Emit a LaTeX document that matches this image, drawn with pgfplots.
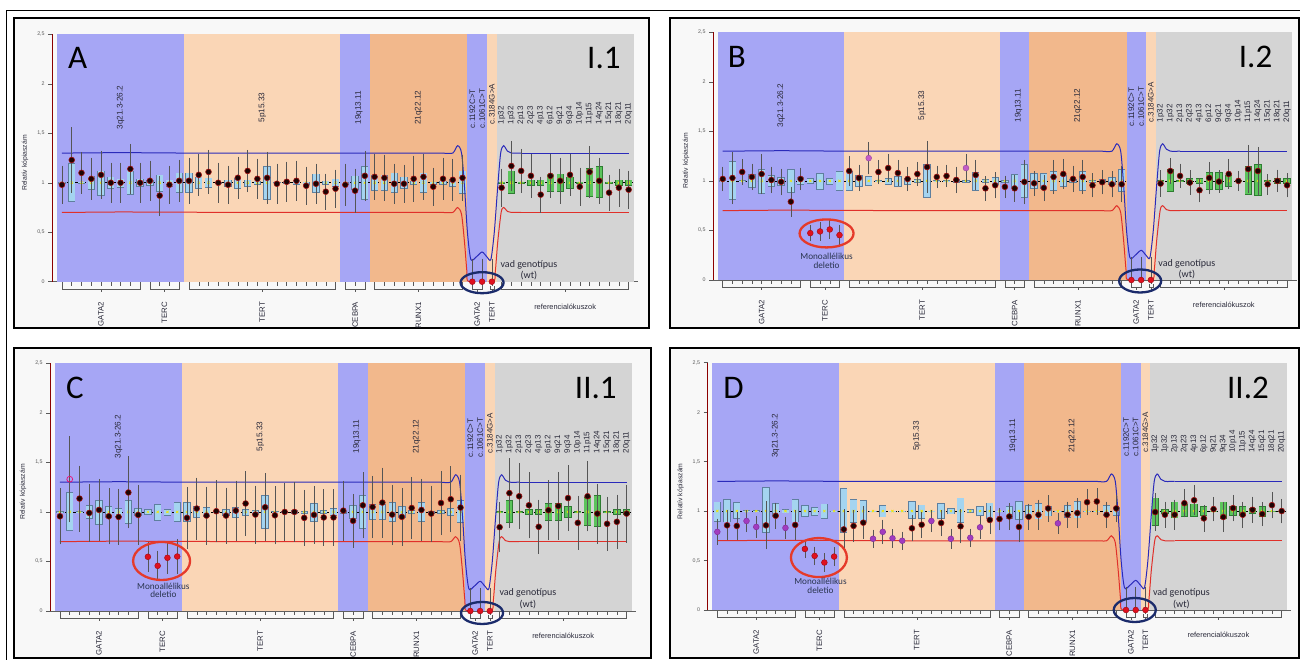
\documentclass[border=0pt]{standalone}
\usepackage{pgfplots}
\pgfplotsset{compat=1.18}
\usepackage{pgfplotstable}
\usepackage{fontspec}
\setmainfont{Liberation Sans}
\newfontfamily\calfont{Carlito}

\definecolor{regblue}{HTML}{A6A6F5}
\definecolor{regpeach}{HTML}{FAD6B6}
\definecolor{regorange}{HTML}{F2B88C}
\definecolor{reggray}{HTML}{D4D4D4}
\definecolor{thrblue}{HTML}{2A2ABA}
\definecolor{thrred}{HTML}{E0302A}
\definecolor{dotk}{HTML}{1C0404}
\definecolor{dotedge}{HTML}{A01212}
\definecolor{dotp}{HTML}{A23CC0}
\definecolor{dotm}{HTML}{C45CC8}
\definecolor{dotr}{HTML}{E0101E}
\definecolor{navyc}{HTML}{1B2B6B}
\definecolor{ellred}{HTML}{E53A2A}
\definecolor{boxedge}{HTML}{5E7F9E}
\definecolor{boxfill}{HTML}{A4D4F0}
\definecolor{gboxedge}{HTML}{2E7D32}
\definecolor{gboxfill}{HTML}{5CC45C}
\definecolor{txt}{HTML}{2A2A3A}
\definecolor{errc}{HTML}{555555}
\definecolor{yellowx}{HTML}{F2E600}
\definecolor{monoc}{HTML}{2A3550}
\definecolor{panelbg}{HTML}{F8F8F8}

% ---------- boxes (reference distribution) ----------
\pgfplotstableread{
lo hi med
0.99 1.01 1
0.81 1.20 1
0.99 1.01 1
0.93 1.07 1
0.87 1.12 1
0.94 1.06 1
0.95 1.04 1
0.88 1.12 1
0.96 1.04 1
0.97 1.03 1
0.91 1.08 1
0.96 1.03 1
0.90 1.10 1
0.90 1.10 1
0.94 1.06 1
0.95 1.05 1
0.99 1.01 1
0.96 1.03 1
0.94 1.05 1
0.96 1.03 1
0.98 1.02 1
0.83 1.17 1
0.995 1.005 1
0.99 1.01 1
0.98 1.02 1
0.98 1.01 1
0.90 1.09 1
0.98 1.02 1
0.96 1.04 1
0.98 1.01 1
0.93 1.07 1
0.83 1.17 1
0.92 1.08 1
0.92 1.08 1
0.90 1.10 1
0.94 1.06 1
0.98 1.02 1
0.90 1.10 1
0.98 1.01 1
0.98 1.02 1
0.96 1.04 1
0.89 1.12 1
1 1 1
1 1 1
1 1 1
0.99 1.01 1
0.89 1.12 1
0.99 1.01 1
0.97 1.03 1
0.97 1.03 1
0.91 1.09 1
0.91 1.09 1
0.94 1.06 1
0.99 1.01 1
0.86 1.15 1
0.85 1.17 1
0.99 1.01 1
0.97 1.03 1
0.97 1.03 1
}\boxABC

\pgfplotstableread{
lo hi med
0.89 1.094 1
0.886 1.12 1
0.92 1.087 1
0.99 1.01 1
0.99 1.01 1
0.78 1.24 1
0.936 1.077 1
0.977 1.02 1
0.886 1.12 1
0.94 1.057 1
0.95 1.04 1
0.92 1.074 1
0.995 1.005 1
0.78 1.23 1
0.88 1.12 1
0.89 1.107 1
0.995 1.005 1
0.936 1.06 1
0.995 1.005 1
0.995 1.005 1
0.92 1.10 1
0.92 1.064 1
0.995 1.005 1
0.92 1.077 1
0.966 1.027 1
0.88 1.134 1
0.983 1.017 1
0.95 1.047 1
0.92 1.084 1
0.995 1.005 1
0.92 1.05 1
0.91 1.10 1
0.93 1.06 1
0.916 1.08 1
0.946 1.05 1
0.995 1.005 1
0.93 1.06 1
0.926 1.097 1
0.995 1.005 1
0.995 1.005 1
0.95 1.057 1
0.953 1.037 1
1 1 1
1 1 1
1 1 1
0.85 1.134 1
0.97 1.02 1
0.926 1.094 1
0.94 1.074 1
0.943 1.074 1
0.95 1.05 1
0.995 1.005 1
0.92 1.094 1
0.95 1.047 1
0.95 1.05 1
0.97 1.03 1
0.94 1.05 1
0.995 1.005 1
0.995 1.005 1
}\boxD

% ---------- sample values ----------
\pgfplotstableread{
v ep em c
0.98 0.16 0.16 k
1.23 0.30 0.30 k
1.10 0.18 0.18 k
1.04 0.18 0.18 k
1.08 0.21 0.21 k
1.00 0.17 0.17 k
1.00 0.17 0.17 k
1.14 0.22 0.22 k
1.00 0.17 0.17 k
1.02 0.17 0.17 k
0.87 0.17 0.17 k
0.98 0.16 0.16 k
1.02 0.18 0.18 k
1.02 0.20 0.20 k
1.08 0.18 0.18 k
1.11 0.19 0.19 k
1.00 0.17 0.17 k
0.98 0.16 0.16 k
1.05 0.18 0.18 k
1.12 0.18 0.18 k
1.04 0.17 0.17 k
1.05 0.23 0.23 k
0.99 0.17 0.17 k
1.01 0.17 0.17 k
1.02 0.17 0.17 k
0.97 0.16 0.16 k
0.99 0.17 0.17 k
0.91 0.15 0.15 k
0.94 0.16 0.16 k
0.98 0.18 0.18 k
0.92 0.19 0.19 k
1.07 0.22 0.22 k
1.06 0.20 0.20 k
1.05 0.20 0.20 k
0.99 0.17 0.17 k
0.99 0.16 0.16 k
1.04 0.20 0.20 k
1.06 0.20 0.20 k
0.96 0.16 0.16 k
1.04 0.18 0.18 k
1.03 0.18 0.18 k
1.05 0.20 0.20 k
0 0.2 0 r
0 0.2 0 r
0 0.2 0 r
0.95 0.16 0.16 k
1.17 0.22 0.22 k
1.12 0.19 0.19 k
1.07 0.19 0.19 k
0.88 0.15 0.15 k
1.07 0.19 0.19 k
1.02 0.20 0.20 k
1.08 0.18 0.18 k
0.96 0.16 0.16 k
1.11 0.23 0.23 k
1.02 0.20 0.20 k
0.90 0.15 0.15 k
0.95 0.16 0.16 k
0.93 0.16 0.16 k
}\dotA

\pgfplotstableread{
v ep em c
1.02 0.09 0.09 k
1.03 0.23 0.23 k
1.09 0.10 0.10 k
1.04 0.10 0.10 k
1.07 0.17 0.17 k
1.01 0.10 0.10 k
0.99 0.10 0.10 k
0.79 0.12 0.12 k
1.02 0.08 0.08 k
0.473 0.05 0.05 r
0.49 0.06 0.06 r
0.51 0.06 0.06 r
0.453 0.07 0.07 r
1.10 0.12 0.12 k
1.03 0.10 0.10 k
1.23 0.13 0.13 m
1.09 0.09 0.09 k
1.13 0.11 0.11 k
1.08 0.10 0.10 k
1.02 0.09 0.09 k
1.07 0.09 0.09 k
1.14 0.23 0.23 k
1.04 0.08 0.08 k
1.05 0.08 0.08 k
1.01 0.10 0.10 k
1.13 0.11 0.11 m
1.06 0.12 0.12 k
0.925 0.09 0.09 k
0.956 0.10 0.10 k
0.94 0.08 0.08 k
0.925 0.10 0.10 k
0.99 0.19 0.19 k
0.976 0.09 0.09 k
0.93 0.10 0.10 k
1.04 0.14 0.14 k
1.07 0.12 0.12 k
1.02 0.10 0.10 k
1.04 0.14 0.14 k
0.956 0.09 0.09 k
0.987 0.09 0.09 k
0.966 0.10 0.10 k
0.966 0.15 0.15 k
0 0.2 0 r
0 0.2 0 r
0 0.2 0 r
0.973 0.10 0.10 k
1.10 0.10 0.10 k
1.05 0.09 0.09 k
0.983 0.09 0.09 k
0.906 0.09 0.09 k
1.03 0.13 0.13 k
0.993 0.08 0.08 k
1.07 0.12 0.12 k
1.00 0.07 0.07 k
1.12 0.21 0.21 k
1.10 0.21 0.21 k
0.966 0.07 0.07 k
1.00 0.08 0.08 k
0.956 0.09 0.09 k
}\dotB

\pgfplotstableread{
v ep em c
0.956 0.25 0.25 k
1.33 0.40 0.40 o
1.135 0.30 0.30 k
0.99 0.26 0.26 k
1.02 0.28 0.28 k
0.956 0.25 0.25 k
0.95 0.25 0.25 k
1.196 0.33 0.33 k
0.97 0.27 0.27 k
0.547 0.12 0.12 r
0.456 0.12 0.12 r
0.537 0.13 0.13 r
0.55 0.14 0.14 r
0.94 0.28 0.28 k
1.034 0.28 0.28 k
0.963 0.26 0.26 k
1.007 0.28 0.28 k
0.963 0.25 0.25 k
1.013 0.27 0.27 k
1.085 0.29 0.29 k
0.973 0.26 0.26 k
1.047 0.31 0.31 k
0.966 0.26 0.26 k
1.00 0.26 0.26 k
1.00 0.27 0.27 k
0.94 0.25 0.25 k
0.97 0.26 0.26 k
0.944 0.25 0.25 k
0.944 0.25 0.25 k
1.013 0.27 0.27 k
0.91 0.24 0.24 k
1.067 0.30 0.30 k
1.05 0.28 0.28 k
1.094 0.32 0.32 k
0.973 0.27 0.27 k
0.95 0.26 0.26 k
1.04 0.28 0.28 k
1.02 0.28 0.28 k
0.983 0.25 0.25 k
1.09 0.29 0.29 k
1.128 0.30 0.30 k
1.044 0.30 0.30 k
0 0.2 0 r
0 0.2 0 r
0 0.2 0 r
0.846 0.22 0.22 k
1.19 0.32 0.32 k
1.158 0.30 0.30 k
1.067 0.30 0.30 k
0.85 0.24 0.24 k
1.017 0.27 0.27 k
1.06 0.31 0.31 k
1.14 0.30 0.30 k
0.89 0.24 0.24 k
1.158 0.32 0.32 k
0.983 0.27 0.27 k
0.88 0.24 0.24 k
0.90 0.24 0.24 k
0.983 0.26 0.26 k
}\dotC

\pgfplotstableread{
v ep em c
0.79 0.10 0.10 p
0.856 0.12 0.12 k
0.85 0.11 0.11 k
0.90 0.08 0.08 p
0.84 0.08 0.08 p
0.856 0.21 0.21 k
0.953 0.10 0.10 k
0.83 0.08 0.08 p
0.86 0.12 0.12 k
0.617 0.06 0.06 r
0.547 0.06 0.06 r
0.48 0.06 0.06 r
0.54 0.06 0.06 r
0.815 0.17 0.17 k
0.85 0.13 0.13 k
0.883 0.13 0.13 k
0.72 0.06 0.06 p
0.79 0.09 0.09 p
0.725 0.06 0.06 p
0.70 0.06 0.06 p
0.826 0.10 0.10 k
0.862 0.10 0.10 k
0.90 0.08 0.08 p
0.88 0.10 0.10 k
0.72 0.07 0.07 p
0.846 0.14 0.14 k
0.73 0.06 0.06 p
0.836 0.08 0.08 p
0.91 0.11 0.11 k
0.92 0.08 0.08 k
0.946 0.10 0.10 k
0.84 0.12 0.12 k
0.943 0.10 0.10 k
0.963 0.12 0.12 k
1.027 0.10 0.10 k
0.876 0.07 0.07 p
0.963 0.10 0.10 k
0.98 0.12 0.12 k
1.09 0.10 0.10 k
1.097 0.10 0.10 k
0.963 0.10 0.10 k
1.027 0.10 0.10 k
0 0.2 0 r
0 0.2 0 r
0 0.2 0 r
0.99 0.16 0.16 k
0.963 0.10 0.10 k
0.963 0.12 0.12 k
1.08 0.11 0.11 k
1.11 0.12 0.12 k
0.926 0.10 0.10 k
1.02 0.09 0.09 k
0.94 0.12 0.12 k
1.03 0.10 0.10 k
0.963 0.10 0.10 k
1.013 0.10 0.10 k
0.97 0.09 0.09 k
1.06 0.10 0.10 k
1.00 0.09 0.09 k
}\dotD

\pgfplotsset{
 panel/.style={
  scale only axis, anchor=south west,
  xmin=0, xmax=60, ymin=0, ymax=2.5,
  axis x line*=bottom, axis y line*=left,
  axis line style={-},
  x axis line style={draw=gray!75!black, line width=0.5pt},
  y axis line style={draw=red!55!black, line width=0.5pt},
  xtick={1,...,59}, xticklabels={},
  ytick={0,0.5,1,1.5,2,2.5},
  yticklabel style={font=\fontsize{5.3}{6}\selectfont, text=gray!70!black},
  /pgf/number format/use comma,
  /pgf/number format/assume math mode=true,
  tick align=outside, major tick length=4pt,
  tick style={draw=gray!70!black, line width=0.5pt},
  clip mode=individual,
 },
}
\tikzset{
 brk/.style={draw=gray!70!black, line width=0.5pt},
 gl/.style={rotate=90, anchor=east, font=\fontsize{7.8}{8}\selectfont, text=txt, inner sep=0pt},
 rl/.style={rotate=90, anchor=center, font=\fontsize{8.2}{9}\selectfont, text=txt, inner sep=0pt},
 ml/.style={rotate=90, anchor=west, font=\fontsize{8}{9}\selectfont, text=txt, inner sep=0pt},
 big/.style={font=\calfont\fontsize{33}{36}\selectfont, inner sep=0pt},
 ann/.style={font=\calfont\fontsize{10}{11}\selectfont, text=txt, inner sep=0pt},
 mono/.style={font=\calfont\fontsize{9.2}{10}\selectfont, text=monoc, inner sep=0pt},
}

\newcommand\regions{%
 \addplot[fill=regblue,draw=none] coordinates {(0.5,2.5)(13.5,2.5)} \closedcycle;
 \addplot[fill=regpeach,draw=none] coordinates {(13.5,2.5)(29.5,2.5)} \closedcycle;
 \addplot[fill=regblue,draw=none] coordinates {(29.5,2.5)(32.5,2.5)} \closedcycle;
 \addplot[fill=regorange,draw=none] coordinates {(32.5,2.5)(42.5,2.5)} \closedcycle;
 \addplot[fill=regblue,draw=none] coordinates {(42.5,2.5)(44.5,2.5)} \closedcycle;
 \addplot[fill=regpeach,draw=none] coordinates {(44.5,2.5)(45.5,2.5)} \closedcycle;
 \addplot[fill=reggray,draw=none] coordinates {(45.5,2.5)(59.5,2.5)} \closedcycle;
}

% boxes drawn as thick error bars: border pass, then fill pass
\newcommand\drawboxes[1]{%
 \addplot[draw=none, mark=none, skip coords between index={42}{59},
   error bars/.cd, y dir=plus, y explicit, error mark=none,
   error bar style={line width=7.3pt, draw=boxedge}]
   table[x expr=\coordindex+1, y=lo, y error plus expr=\thisrow{hi}-\thisrow{lo}] {#1};
 \addplot[draw=none, mark=none, skip coords between index={42}{59},
   error bars/.cd, y dir=plus, y explicit, error mark=none,
   error bar style={line width=6.2pt, draw=boxfill}]
   table[x expr=\coordindex+1, y expr=\thisrow{lo}+0.006, y error plus expr=\thisrow{hi}-\thisrow{lo}-0.012] {#1};
 \addplot[draw=none, mark=none, skip coords between index={0}{45},
   error bars/.cd, y dir=plus, y explicit, error mark=none,
   error bar style={line width=7.3pt, draw=gboxedge}]
   table[x expr=\coordindex+1, y=lo, y error plus expr=\thisrow{hi}-\thisrow{lo}] {#1};
 \addplot[draw=none, mark=none, skip coords between index={0}{45},
   error bars/.cd, y dir=plus, y explicit, error mark=none,
   error bar style={line width=6.2pt, draw=gboxfill}]
   table[x expr=\coordindex+1, y expr=\thisrow{lo}+0.006, y error plus expr=\thisrow{hi}-\thisrow{lo}-0.012] {#1};
}

\newcommand\thresholds{%
 \addplot[thrblue, line width=1pt] coordinates {(1,1.30)(7,1.305)(14,1.30)(40,1.30)};
 \addplot[thrblue, line width=1pt, smooth, tension=0.45] coordinates {(40,1.30)(41.0,1.30)(41.5,1.375)(41.9,1.30)(42.2,0.96)(42.5,0.5)(42.85,0.225)(43.4,0.25)(44.0,0.30)(44.5,0.25)(44.9,0.225)(45.25,0.5)(45.6,0.96)(45.9,1.30)(46.2,1.375)(46.6,1.32)(47.0,1.30)(48,1.30)};
 \addplot[thrblue, line width=1pt] coordinates {(48,1.30)(59,1.30)};
 \addplot[thrred, line width=1pt] coordinates {(1,0.70)(7,0.705)(20,0.70)(40,0.70)};
 \addplot[thrred, line width=1pt, smooth, tension=0.45] coordinates {(40,0.70)(41.0,0.70)(41.5,0.75)(41.9,0.68)(42.2,0.40)(42.45,0.10)(42.65,0.0)(45.1,0.0)(45.35,0.10)(45.6,0.40)(45.95,0.70)(46.2,0.75)(46.6,0.71)(47.0,0.70)(48,0.70)};
 \addplot[thrred, line width=1pt] coordinates {(48,0.70)(59,0.70)};
}

\newcommand\brk[3]{%
 \draw[brk] ([yshift=-4pt]axis cs:#1,0) |- ([yshift=-7.6pt]axis cs:#3,0) -| ([yshift=-4pt]axis cs:#2,0);
 \draw[brk] ([yshift=-7.6pt]axis cs:#3,0) -- ([yshift=-10.4pt]axis cs:#3,0);
}
\newcommand\brackets{%
 \brk{1}{9}{5} \node[gl] at ([yshift=-20pt]axis cs:5,0) {GATA2};
 \brk{10}{13}{11.5} \node[gl] at ([yshift=-20pt]axis cs:11.5,0) {TERC};
 \brk{14}{29}{21.5} \node[gl] at ([yshift=-20pt]axis cs:21.5,0) {TERT};
 \brk{30}{32}{31} \node[gl] at ([yshift=-20pt]axis cs:31,0) {CEBPA};
 \brk{33}{42}{37.5} \node[gl] at ([yshift=-20pt]axis cs:37.5,0) {RUNX1};
 \brk{43}{44}{43.5} \node[gl] at ([yshift=-20pt]axis cs:43.5,0) {GATA2};
 \brk{44.8}{45.2}{45} \node[gl] at ([yshift=-20pt]axis cs:45,0) {TERT};
 \brk{46}{59}{52.5} \node[font=\fontsize{7.4}{8}\selectfont, text=txt, inner sep=0pt] at ([yshift=-25pt]axis cs:52.5,0) {referencialókuszok};
}
\newcommand\reglabels{%
 \node[rl] at (axis cs:7,1.76) {3q21.3-26.2};
 \node[rl] at (axis cs:21.5,1.76) {5p15.33};
 \node[rl] at (axis cs:31.4,1.76) {19q13.11};
 \node[rl] at (axis cs:37.5,1.76) {21q22.12};
 \node[ml] at (axis cs:43,1.55) {c.1192C>T};
 \node[ml] at (axis cs:44,1.55) {c.1061C>T};
 \node[ml] at (axis cs:45,1.59) {c.3184G>A};
 \node[ml] at (axis cs:46,1.59) {1p32};
 \node[ml] at (axis cs:47,1.59) {1p32};
 \node[ml] at (axis cs:48,1.59) {2p13};
 \node[ml] at (axis cs:49,1.59) {2q23};
 \node[ml] at (axis cs:50,1.59) {4p13};
 \node[ml] at (axis cs:51,1.59) {6p12};
 \node[ml] at (axis cs:52,1.59) {9q21};
 \node[ml] at (axis cs:53,1.59) {9q34};
 \node[ml] at (axis cs:54,1.59) {10p14};
 \node[ml] at (axis cs:55,1.59) {11p15};
 \node[ml] at (axis cs:56,1.59) {14q24};
 \node[ml] at (axis cs:57,1.59) {15q21};
 \node[ml] at (axis cs:58,1.59) {18q21};
 \node[ml] at (axis cs:59,1.59) {20q11};
 \node[rotate=90, font=\fontsize{6.8}{7}\selectfont, text=txt] at ([xshift=-27pt]axis cs:0,1.2) {Relatív kópiaszám};
}

\newcommand\drawdots[1]{%
 \addplot[scatter, only marks, scatter src=explicit symbolic, mark size=2.9pt,
   scatter/classes={k={mark=*,fill=dotk,draw=dotedge,line width=0.6pt},
                    p={mark=*,fill=dotp,draw=dotp!80!black,line width=0.5pt},
                    m={mark=*,fill=dotm,draw=dotm!80!black,line width=0.5pt},
                    r={mark=*,fill=dotr,draw=dotr!75!black,line width=0.5pt},
                    o={mark=o,draw=magenta!70!red,line width=0.7pt}},
   error bars/.cd, y dir=both, y explicit, error mark=-,
   error mark options={mark size=3.3pt, line width=0.55pt, draw=errc},
   error bar style={line width=0.55pt, draw=errc}]
  table[x expr=\coordindex+1, y=v, y error plus=ep, y error minus=em, meta=c] {#1};
}

\newcommand\panelbase[1]{%
 \regions
 \addplot[black, line width=0.6pt, dash pattern=on 2.5pt off 1.8pt] coordinates {(0.6,1)(42.4,1)};
 \addplot[black, line width=0.6pt, dash pattern=on 2.5pt off 1.8pt] coordinates {(45.6,1)(59.4,1)};
 \drawboxes{#1}%
 \addplot[only marks, mark=x, mark size=1.6pt, draw=yellowx, line width=0.6pt, skip coords between index={42}{45}] table[x expr=\coordindex+1, y=med] {#1};
 \thresholds
 \brackets
 \reglabels
}

\begin{document}
\begin{tikzpicture}
\useasboundingbox (0,0) rectangle (1300pt,660pt);
\draw[line width=0.8pt] (6pt,0pt) -- (6pt,650pt) -- (1300pt,650pt);
\draw[line width=1.1pt, fill=panelbg] (14pt,332pt) rectangle (649pt,642pt);
\draw[line width=1.1pt, fill=panelbg] (670pt,332pt) rectangle (1299pt,642pt);
\draw[line width=1.1pt, fill=panelbg] (14pt,2pt) rectangle (651pt,312pt);
\draw[line width=1.1pt, fill=panelbg] (670pt,2pt) rectangle (1299pt,312pt);

% ---- A ----
\begin{axis}[panel, at={(52.2pt,378.3pt)}, width=586.2pt, height=247.3pt]
 \panelbase{\boxABC}
 \drawdots{\dotA}
 \node[big, anchor=base west] at (axis cs:1.6,2.16) {A};
 \node[big, anchor=base east] at (axis cs:58.2,2.16) {I.1};
 \node[ann] at (axis cs:48.8,0.17) {vad genotípus};
 \node[ann] at (axis cs:48.8,0.06) {(wt)};
 \draw[navyc, line width=2.3pt] (axis cs:44,-0.01) ellipse [x radius=21.5pt, y radius=10.5pt];
\end{axis}

% ---- B ----
\begin{axis}[panel, at={(713pt,380pt)}, width=583.8pt, height=247.7pt]
 \panelbase{\boxABC}
 \drawdots{\dotB}
 \node[big, anchor=base west] at (axis cs:1.5,2.14) {B};
 \node[big, anchor=base east] at (axis cs:57.5,2.14) {I.2};
 \node[ann] at (axis cs:48.7,0.16) {vad genotípus};
 \node[ann] at (axis cs:48.7,0.055) {(wt)};
 \draw[navyc, line width=2.3pt] (axis cs:43.9,-0.01) ellipse [x radius=21pt, y radius=11.5pt];
 \draw[ellred, line width=2.3pt] (axis cs:11.67,0.47) ellipse [x radius=27pt, y radius=14pt];
 \node[mono] at (axis cs:11.67,0.235) {Monoallélikus};
 \node[mono] at (axis cs:11.67,0.15) {deletio};
\end{axis}

% ---- C ----
\begin{axis}[panel, at={(50.2pt,49pt)}, width=586.2pt, height=247.7pt]
 \panelbase{\boxABC}
 \drawdots{\dotC}
 \node[big, anchor=base west] at (axis cs:1.6,2.14) {C};
 \node[big, anchor=base east] at (axis cs:58.0,2.14) {II.1};
 \node[ann] at (axis cs:48.9,0.18) {vad genotípus};
 \node[ann] at (axis cs:48.9,0.07) {(wt)};
 \draw[navyc, line width=2.3pt] (axis cs:44.2,-0.02) ellipse [x radius=21pt, y radius=11pt];
 \draw[ellred, line width=2.3pt] (axis cs:11.4,0.505) ellipse [x radius=28.5pt, y radius=19pt];
 \node[mono] at (axis cs:11.58,0.252) {Monoallélikus};
 \node[mono] at (axis cs:11.58,0.168) {deletio};
\end{axis}

% ---- D ----
\begin{axis}[panel, at={(707.6pt,50pt)}, width=583.8pt, height=247.3pt]
 \panelbase{\boxD}
 \drawdots{\dotD}
 \node[big, anchor=base west] at (axis cs:1.6,2.14) {D};
 \node[big, anchor=base east] at (axis cs:57.7,2.14) {II.2};
 \node[ann] at (axis cs:48.7,0.17) {vad genotípus};
 \node[ann] at (axis cs:48.7,0.06) {(wt)};
 \draw[navyc, line width=2.3pt] (axis cs:43.9,0) ellipse [x radius=21pt, y radius=12pt];
 \draw[ellred, line width=2.3pt] (axis cs:11.44,0.53) ellipse [x radius=28pt, y radius=19.5pt];
 \node[mono] at (axis cs:11.6,0.293) {Monoallélikus};
 \node[mono] at (axis cs:11.6,0.2) {deletio};
\end{axis}
\end{tikzpicture}
\end{document}
